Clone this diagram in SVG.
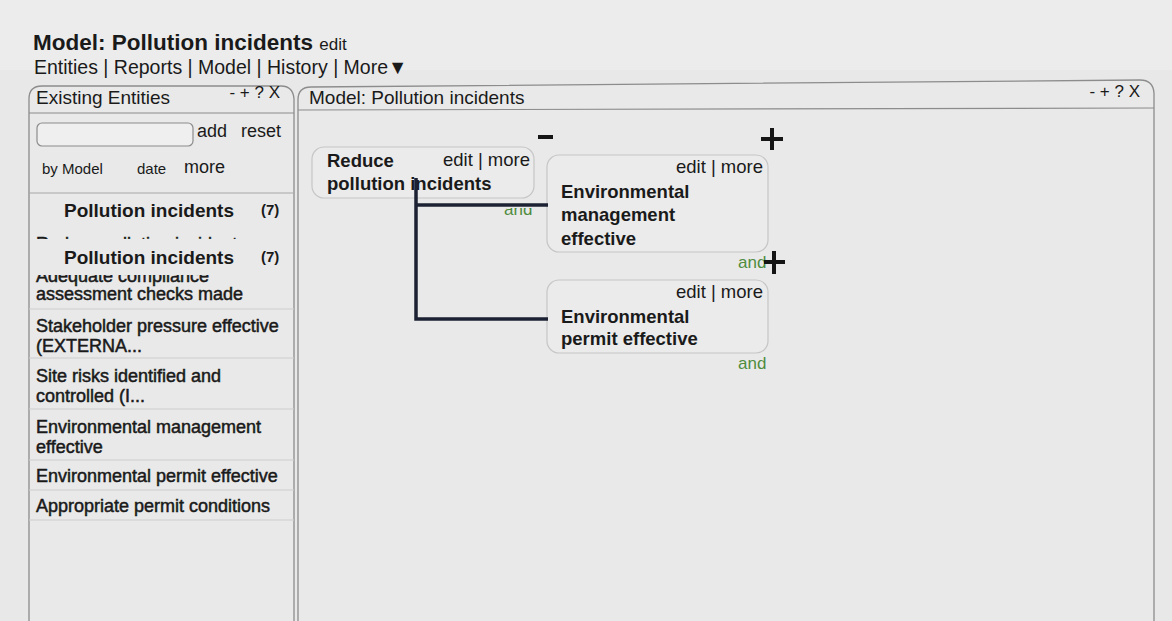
<svg xmlns="http://www.w3.org/2000/svg" width="1172" height="621" viewBox="0 0 1172 621">
<defs>
<style>
text{font-family:"Liberation Sans",Arial,sans-serif;fill:#1a1a1a}
.title{font-size:22.5px;font-weight:bold}
.nav{font-size:19.5px}
.hdr{font-size:19px}
.ctl{font-size:17px}
.ui{font-size:18px}
.sm{font-size:15px}
.grp{font-size:19px;font-weight:bold}
.cnt{font-size:15px;font-weight:bold}
.item{font-size:18px;stroke:#1a1a1a;stroke-width:0.5}
.nb{font-size:18.5px;font-weight:bold}
.em{font-size:18.5px;text-anchor:end}
.and{font-size:17px;fill:#4f8c40}
.panel{fill:#e9e9e9;stroke:#8c8c8c;stroke-width:1.3}
.sep{stroke:#cdcdcd;stroke-width:1.2}
.node{fill:#ebebeb;stroke:#c6c6c6;stroke-width:1.2}
.conn{fill:none;stroke:#1c2233;stroke-width:3.5}
.pm{fill:none;stroke:#151515;stroke-width:4}
</style>
<clipPath id="andclip"><rect x="495" y="208" width="45" height="15"/></clipPath>
</defs>
<rect width="1172" height="621" fill="#e8e8e8"/>
<rect width="1172" height="70" fill="#ececec"/>

<g id="page-header">
<text class="title" x="33" y="50">Model: Pollution incidents <tspan style="font-weight:normal;font-size:17px">edit</tspan></text>
<text class="nav" x="34" y="74">Entities | Reports | Model | History | More▼</text>
</g>

<g id="left-panel">
<path class="panel" d="M29 621 V99 Q29 86 42 86 H281 Q293 86 294 99 V621"/>
<line x1="29" y1="113" x2="294" y2="113" stroke="#8c8c8c" stroke-width="1.2"/>
<text class="hdr" x="36" y="104">Existing Entities</text>
<text class="ctl" x="280" y="98" text-anchor="end">- + ? X</text>
<rect x="37" y="123" width="156" height="23" rx="5" fill="#efefef" stroke="#8c8c8c" stroke-width="1.2"/>
<text class="ui" x="197" y="137">add</text>
<text class="ui" x="241" y="137">reset</text>
<text class="sm" x="42" y="174">by Model</text>
<text class="sm" x="137" y="174">date</text>
<text class="ui" x="184" y="173">more</text>
<line class="sep" x1="29" y1="193" x2="294" y2="193" style="stroke:#a8a8a8"/>
<text class="grp" x="64" y="217">Pollution incidents</text>
<text class="cnt" x="261" y="215">(7)</text>
<text class="item" x="36" y="250">Reduce pollution incidents</text>
<text class="item" x="36" y="282">Adequate compliance</text>
<rect x="30" y="239" width="263" height="36" fill="#e9e9e9"/>
<text class="grp" x="64" y="264">Pollution incidents</text>
<text class="cnt" x="261" y="262">(7)</text>
<text class="item" x="36" y="300">assessment checks made</text>
<line class="sep" x1="29" y1="309" x2="294" y2="309"/>
<text class="item" x="36" y="332">Stakeholder pressure effective</text>
<text class="item" x="36" y="352">(EXTERNA...</text>
<line class="sep" x1="29" y1="358" x2="294" y2="358"/>
<text class="item" x="36" y="382">Site risks identified and</text>
<text class="item" x="36" y="402">controlled (I...</text>
<line class="sep" x1="29" y1="409" x2="294" y2="409"/>
<text class="item" x="36" y="433">Environmental management</text>
<text class="item" x="36" y="453">effective</text>
<line class="sep" x1="29" y1="460" x2="294" y2="460"/>
<text class="item" x="36" y="482">Environmental permit effective</text>
<line class="sep" x1="29" y1="490" x2="294" y2="490"/>
<text class="item" x="36" y="512">Appropriate permit conditions</text>
<line class="sep" x1="29" y1="520" x2="294" y2="520"/>
</g>

<g id="model-panel">
<path class="panel" d="M298 621 V100 Q298 87 311 87 L1140 80 Q1153 80 1154 93 V621"/>
<line x1="298" y1="110" x2="1154" y2="108" stroke="#8c8c8c" stroke-width="1.2"/>
<text class="hdr" x="309" y="104">Model: Pollution incidents</text>
<text class="ctl" x="1140" y="97" text-anchor="end">- + ? X</text>
<path class="pm" d="M538 137 H553"/>
<path class="pm" d="M761 139 H783 M772 128 V150"/>
</g>

<g id="node-reduce">
<rect class="node" x="312" y="147" width="222" height="51" rx="12"/>
<text class="nb" x="327" y="167">Reduce</text>
<text class="nb" x="327" y="190">pollution incidents</text>
<text class="em" x="530" y="166">edit | more</text>
<text class="and" x="504" y="215" clip-path="url(#andclip)">and</text>
</g>

<g id="node-envmgmt">
<rect class="node" x="547" y="155" width="221" height="97" rx="12"/>
<text class="em" x="763" y="173">edit | more</text>
<text class="nb" x="561" y="198">Environmental</text>
<text class="nb" x="561" y="221">management</text>
<text class="nb" x="561" y="245">effective</text>
<text class="and" x="738" y="268">and</text>
<path class="pm" d="M764 262 H785 M774 251 V274"/>
</g>

<g id="node-envpermit">
<rect class="node" x="547" y="280" width="221" height="73" rx="12"/>
<text class="em" x="763" y="298">edit | more</text>
<text class="nb" x="561" y="323">Environmental</text>
<text class="nb" x="561" y="345">permit effective</text>
<text class="and" x="738" y="369">and</text>
</g>

<g id="connectors">
<path class="conn" d="M416 178 V319 H548"/>
<path class="conn" d="M416 205 H548"/>
</g>
</svg>
